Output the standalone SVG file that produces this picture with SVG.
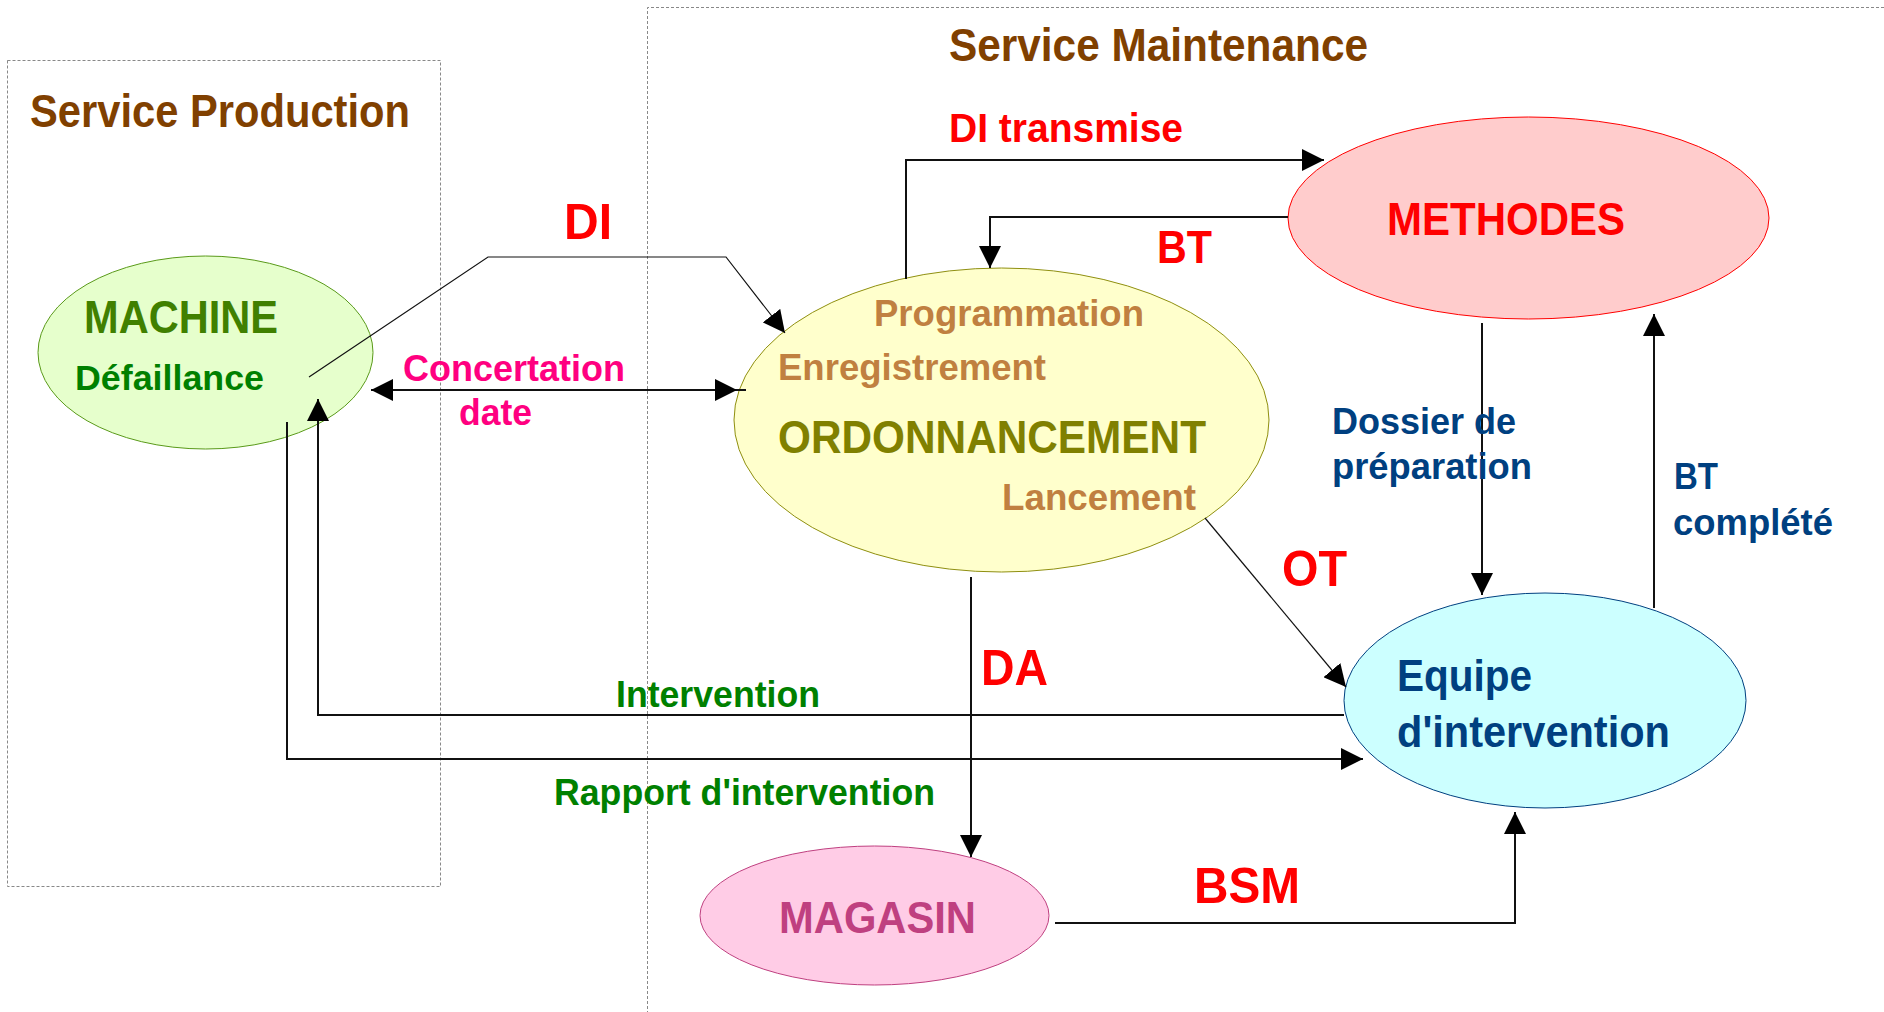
<svg xmlns="http://www.w3.org/2000/svg" width="1884" height="1012" viewBox="0 0 1884 1012">
<style>
text{font-family:"Liberation Sans",Arial,sans-serif;font-weight:bold}
.zone{fill:none;stroke:#888;stroke-width:1;stroke-dasharray:3,2}
.title{fill:#804000;font-size:46px}
.red{fill:#FF0000}
.tan{fill:#C08040;font-size:36px}
.blue{fill:#004080}
.green{fill:#008000}
.ortho{fill:none;stroke:#111;stroke-width:2}
.thin{fill:none;stroke:#111;stroke-width:1.2}
</style>
<defs>
<marker id="arr" markerUnits="userSpaceOnUse" markerWidth="22" markerHeight="22" refX="22" refY="11" orient="auto-start-reverse" viewBox="0 0 22 22">
<path d="M0,0 L22,11 L0,22 z" fill="#000"/>
</marker>
</defs>
<rect width="1884" height="1012" fill="#fff"/>
<g id="zone-production">
<rect class="zone" x="7.5" y="60.5" width="433" height="826"/>
<text class="title" x="30" y="127" textLength="380" lengthAdjust="spacingAndGlyphs">Service Production</text>
</g>
<g id="zone-maintenance">
<path class="zone" d="M1884,7.5 H647.5 V1012"/>
<text class="title" x="949" y="61" textLength="419" lengthAdjust="spacingAndGlyphs">Service Maintenance</text>
</g>
<g id="machine">
<ellipse cx="205.5" cy="352.5" rx="167.5" ry="96.5" fill="#E6FFCC" stroke="#5A9A1A" stroke-width="1"/>
<text x="84" y="333" font-size="46" fill="#408000" textLength="194" lengthAdjust="spacingAndGlyphs">MACHINE</text>
<text class="green" x="75" y="390" font-size="35" textLength="189" lengthAdjust="spacingAndGlyphs">Défaillance</text>
</g>
<g id="ordonnancement">
<ellipse cx="1001.5" cy="420" rx="267.5" ry="152" fill="#FFFFCC" stroke="#8F8F10" stroke-width="1"/>
<text class="tan" x="874" y="326" textLength="270" lengthAdjust="spacingAndGlyphs">Programmation</text>
<text class="tan" x="778" y="380" textLength="268" lengthAdjust="spacingAndGlyphs">Enregistrement</text>
<text x="778" y="453" font-size="46" fill="#808000" textLength="428" lengthAdjust="spacingAndGlyphs">ORDONNANCEMENT</text>
<text class="tan" x="1002" y="510" textLength="194" lengthAdjust="spacingAndGlyphs">Lancement</text>
</g>
<g id="methodes">
<ellipse cx="1528.5" cy="218" rx="240.5" ry="101" fill="#FFCCCC" stroke="#FF0000" stroke-width="1"/>
<text class="red" x="1387" y="235" font-size="46" textLength="238" lengthAdjust="spacingAndGlyphs">METHODES</text>
</g>
<g id="equipe">
<ellipse cx="1545" cy="700.5" rx="201" ry="107.5" fill="#CCFFFF" stroke="#004080" stroke-width="1"/>
<text class="blue" x="1397" y="691" font-size="45" textLength="135" lengthAdjust="spacingAndGlyphs">Equipe</text>
<text class="blue" x="1397" y="747" font-size="45" textLength="273" lengthAdjust="spacingAndGlyphs">d'intervention</text>
</g>
<g id="magasin">
<ellipse cx="874.5" cy="915.5" rx="174.5" ry="69.5" fill="#FFCCE6" stroke="#BF4080" stroke-width="1"/>
<text x="779" y="933" font-size="45" fill="#BF4080" textLength="197" lengthAdjust="spacingAndGlyphs">MAGASIN</text>
</g>
<g id="connectors">
<polyline class="thin" points="309,377 488,257 726,257 785,333" marker-end="url(#arr)"/>
<line class="ortho" x1="371" y1="390" x2="737" y2="390" marker-start="url(#arr)" marker-end="url(#arr)"/>
<line class="ortho" x1="737" y1="390" x2="746" y2="390"/>
<polyline class="ortho" points="906,279 906,160 1324,160" marker-end="url(#arr)"/>
<polyline class="ortho" points="1288,217 990,217 990,268" marker-end="url(#arr)"/>
<line class="ortho" x1="1482" y1="323" x2="1482" y2="595" marker-end="url(#arr)"/>
<line class="ortho" x1="1654" y1="608" x2="1654" y2="314" marker-end="url(#arr)"/>
<line class="thin" x1="1205" y1="518" x2="1346" y2="687" marker-end="url(#arr)"/>
<polyline class="ortho" points="1344,715 318,715 318,399" marker-end="url(#arr)"/>
<polyline class="ortho" points="287,422 287,759 1363,759" marker-end="url(#arr)"/>
<line class="ortho" x1="971" y1="577" x2="971" y2="857" marker-end="url(#arr)"/>
<polyline class="ortho" points="1055,923 1515,923 1515,812" marker-end="url(#arr)"/>
<text class="red" x="564" y="239" font-size="50" textLength="48" lengthAdjust="spacingAndGlyphs">DI</text>
<text x="403" y="381" font-size="36" fill="#FF0080" textLength="222" lengthAdjust="spacingAndGlyphs">Concertation</text>
<text x="459" y="425" font-size="36" fill="#FF0080" textLength="73" lengthAdjust="spacingAndGlyphs">date</text>
<text class="red" x="949" y="142" font-size="41" textLength="234" lengthAdjust="spacingAndGlyphs">DI transmise</text>
<text class="red" x="1157" y="263" font-size="46" textLength="55" lengthAdjust="spacingAndGlyphs">BT</text>
<text class="blue" x="1332" y="434" font-size="36" textLength="184" lengthAdjust="spacingAndGlyphs">Dossier de</text>
<text class="blue" x="1332" y="479" font-size="36" textLength="200" lengthAdjust="spacingAndGlyphs">préparation</text>
<text class="blue" x="1674" y="489" font-size="36" textLength="44" lengthAdjust="spacingAndGlyphs">BT</text>
<text class="blue" x="1673" y="535" font-size="36" textLength="160" lengthAdjust="spacingAndGlyphs">complété</text>
<text class="red" x="1282" y="586" font-size="50" textLength="65" lengthAdjust="spacingAndGlyphs">OT</text>
<text class="red" x="981" y="685" font-size="50" textLength="67" lengthAdjust="spacingAndGlyphs">DA</text>
<text class="green" x="616" y="707" font-size="37" textLength="204" lengthAdjust="spacingAndGlyphs">Intervention</text>
<text class="green" x="554" y="805" font-size="37" textLength="381" lengthAdjust="spacingAndGlyphs">Rapport d'intervention</text>
<text class="red" x="1194" y="903" font-size="50" textLength="106" lengthAdjust="spacingAndGlyphs">BSM</text>
</g>
</svg>
